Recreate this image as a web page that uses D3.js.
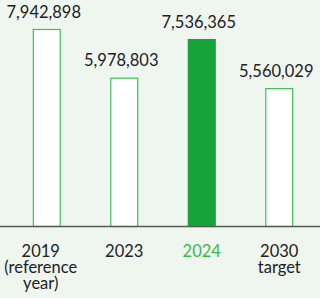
<!DOCTYPE html>
<html><head><meta charset="utf-8">
<script src="https://cdn.jsdelivr.net/npm/d3@7"></script>
<style>
html,body{margin:0;padding:0;background:#eff5ef;}
svg{display:block;}
</style></head>
<body>
<svg id="chart" width="320" height="298"></svg>
<script>
const categories = ["2019", "2023", "2024", "2030"];
const subLabels = [["(reference", "year)"], [], [], ["target"]];
const values = [7942898, 5978803, 7536365, 5560029];
const highlight = [false, false, true, false];

const W = 320, H = 298;
const baseY = 226.5;
const svg = d3.select("#chart");
svg.append("rect").attr("width", W).attr("height", H).attr("fill", "#eff5ef");

const x = d3.scaleBand().domain(categories).range([8, 318]).paddingInner(0.64).paddingOuter(0.32);
const y = d3.scaleLinear().domain([0, 7942898]).range([baseY, 29.5]);
const fmt = d3.format(",");

const g = svg.append("g");
g.selectAll("rect.bar").data(values).join("rect")
  .attr("class", "bar")
  .attr("x", (d, i) => x(categories[i]) + 0.5)
  .attr("y", d => y(d))
  .attr("width", x.bandwidth() - 1)
  .attr("height", d => baseY - y(d))
  .attr("fill", (d, i) => highlight[i] ? "#16a43a" : "#ffffff")
  .attr("stroke", (d, i) => highlight[i] ? "#16a43a" : "#3fbf55")
  .attr("stroke-width", 1.2);

g.selectAll("text.val").data(values).join("text")
  .attr("class", "val")
  .attr("x", (d, i) => x(categories[i]) + x.bandwidth() / 2 - 3)
  .attr("y", d => y(d) - 12)
  .attr("text-anchor", "middle")
  .attr("font-family", "Lato, sans-serif")
  .attr("font-size", 16.5)
  .attr("fill", "#222222")
  .text(d => fmt(d));

svg.append("line").attr("x1", 0).attr("x2", W).attr("y1", baseY).attr("y2", baseY)
  .attr("stroke", "#555a55").attr("stroke-width", 1.6);

const labels = g.selectAll("text.cat").data(categories).join("text")
  .attr("class", "cat")
  .attr("x", (d, i) => x(d) + x.bandwidth() / 2 + (i === 0 ? -6 : 0))
  .attr("y", 257)
  .attr("text-anchor", "middle")
  .attr("font-family", "Lato, sans-serif")
  .attr("font-size", 16.5)
  .attr("fill", (d, i) => highlight[i] ? "#3cb54a" : "#222222");
labels.each(function(d, i) {
  const t = d3.select(this);
  const cx = t.attr("x");
  t.append("tspan").attr("x", cx).attr("dy", 0).text(d);
  subLabels[i].forEach(s => t.append("tspan").attr("x", cx).attr("dy", 16).text(s));
});
</script>
</body></html>
